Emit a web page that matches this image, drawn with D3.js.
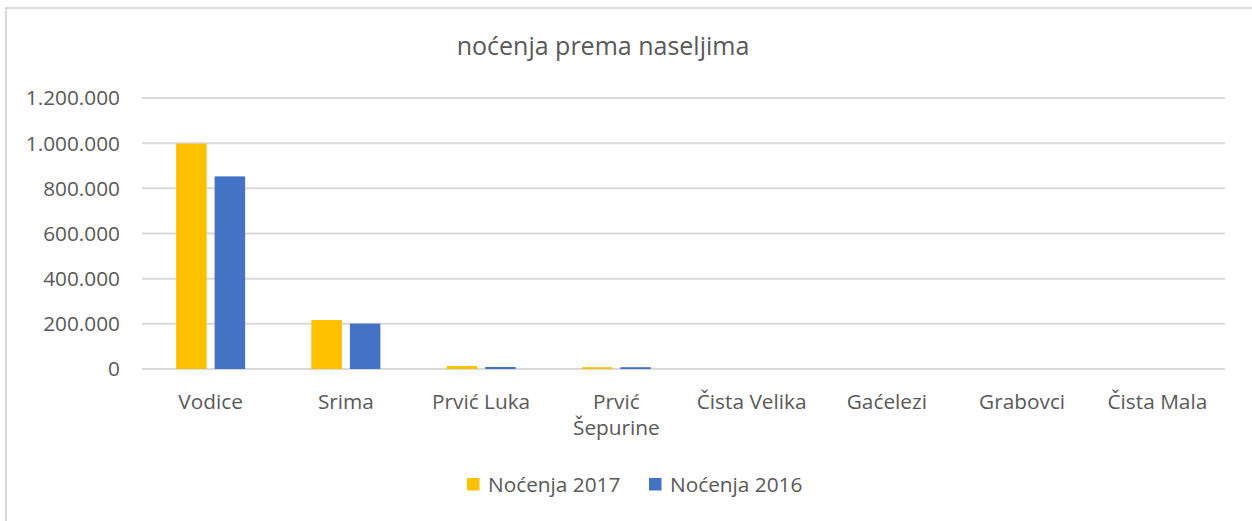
<!DOCTYPE html>
<html>
<head>
    <title>noćenja prema naseljima</title>
    <script src="https://d3js.org/d3.v7.min.js"></script>
    <style>
        body {
            margin: 0;
            background: #fff;
            font-family: "Open Sans", sans-serif;
        }
        .tick-label {
            fill: #595959;
            font-size: 20.8px;
        }
    </style>
</head>
<body>
    <div id="chart"></div>

    <script>
        const width = 1252;
        const height = 521;

        // data
        const places = ['Vodice', 'Srima', 'Prvić Luka', 'Prvić Šepurine', 'Čista Velika', 'Gaćelezi', 'Grabovci', 'Čista Mala'];
        const seriesNames = ['Noćenja 2017', 'Noćenja 2016'];
        const nights2017 = [998000, 217000, 13000, 8000, 0, 0, 0, 0];
        const nights2016 = [853000, 201000, 9000, 8000, 0, 0, 0, 0];
        const yTicks = [0, 200000, 400000, 600000, 800000, 1000000, 1200000];
        const colors = ['#FFC000', '#4472C4'];

        const rows = places.map((p, i) => ({
            place: p,
            values: [nights2017[i], nights2016[i]]
        }));

        const svg = d3.select('#chart')
            .append('svg')
            .attr('width', width)
            .attr('height', height);

        // chart frame (only top and left edges fall inside the picture)
        svg.append('rect')
            .attr('x', 6)
            .attr('y', 8)
            .attr('width', width + 20)
            .attr('height', height + 20)
            .attr('fill', '#fff')
            .attr('stroke', '#D9D9D9')
            .attr('stroke-width', 2);

        const x0 = d3.scaleBand()
            .domain(places)
            .range([143, 1225]);

        const pairWidth = 69;
        const x1 = d3.scaleBand()
            .domain(d3.range(seriesNames.length))
            .range([x0.bandwidth() / 2 - pairWidth / 2, x0.bandwidth() / 2 + pairWidth / 2])
            .paddingInner(0.208);

        const y = d3.scaleLinear()
            .domain([0, 1200000])
            .range([369, 98]);

        const fmt = d3.formatLocale({ decimal: ',', thousands: '.', grouping: [3], currency: ['', ''] }).format(',');

        // gridlines
        svg.append('g')
            .selectAll('line')
            .data(yTicks)
            .join('line')
            .attr('x1', 142)
            .attr('x2', 1225)
            .attr('y1', d => y(d))
            .attr('y2', d => y(d))
            .attr('stroke', '#D9D9D9')
            .attr('stroke-width', 2);

        // y labels
        svg.append('g')
            .selectAll('text')
            .data(yTicks)
            .join('text')
            .classed('tick-label', true)
            .attr('x', 120)
            .attr('y', d => y(d))
            .attr('dy', '0.36em')
            .attr('text-anchor', 'end')
            .text(d => fmt(d));

        // bars
        svg.append('g')
            .selectAll('g')
            .data(rows)
            .join('g')
            .attr('transform', d => `translate(${x0(d.place)},0)`)
            .selectAll('rect')
            .data(d => d.values.map((v, i) => ({ v, i })))
            .join('rect')
            .attr('x', d => x1(d.i))
            .attr('width', x1.bandwidth())
            .attr('y', d => y(d.v))
            .attr('height', d => y(0) - y(d.v))
            .attr('fill', d => colors[d.i]);

        // category labels, wrapped like the original
        const wrapped = { 'Prvić Šepurine': ['Prvić', 'Šepurine'] };
        const xl = svg.append('g')
            .selectAll('text')
            .data(places)
            .join('text')
            .classed('tick-label', true)
            .attr('text-anchor', 'middle')
            .attr('x', d => x0(d) + x0.bandwidth() / 2)
            .attr('y', 409);
        xl.selectAll('tspan')
            .data(d => wrapped[d] || [d])
            .join('tspan')
            .attr('x', function() { return this.parentNode.getAttribute('x'); })
            .attr('dy', (d, i) => i === 0 ? 0 : 26)
            .text(d => d);

        // title
        svg.append('text')
            .attr('x', 603)
            .attr('y', 55)
            .attr('text-anchor', 'middle')
            .attr('fill', '#595959')
            .attr('font-size', 25)
            .text('noćenja prema naseljima');

        // legend
        const legendX = [467, 649];
        const legend = svg.append('g')
            .selectAll('g')
            .data(seriesNames)
            .join('g')
            .attr('transform', (d, i) => `translate(${legendX[i]},478)`);
        legend.append('rect')
            .attr('width', 12.5)
            .attr('height', 12.5)
            .attr('fill', (d, i) => colors[i]);
        legend.append('text')
            .classed('tick-label', true)
            .attr('x', 21)
            .attr('y', 6.5)
            .attr('dy', '0.36em')
            .text(d => d);
    </script>
</body>
</html>
